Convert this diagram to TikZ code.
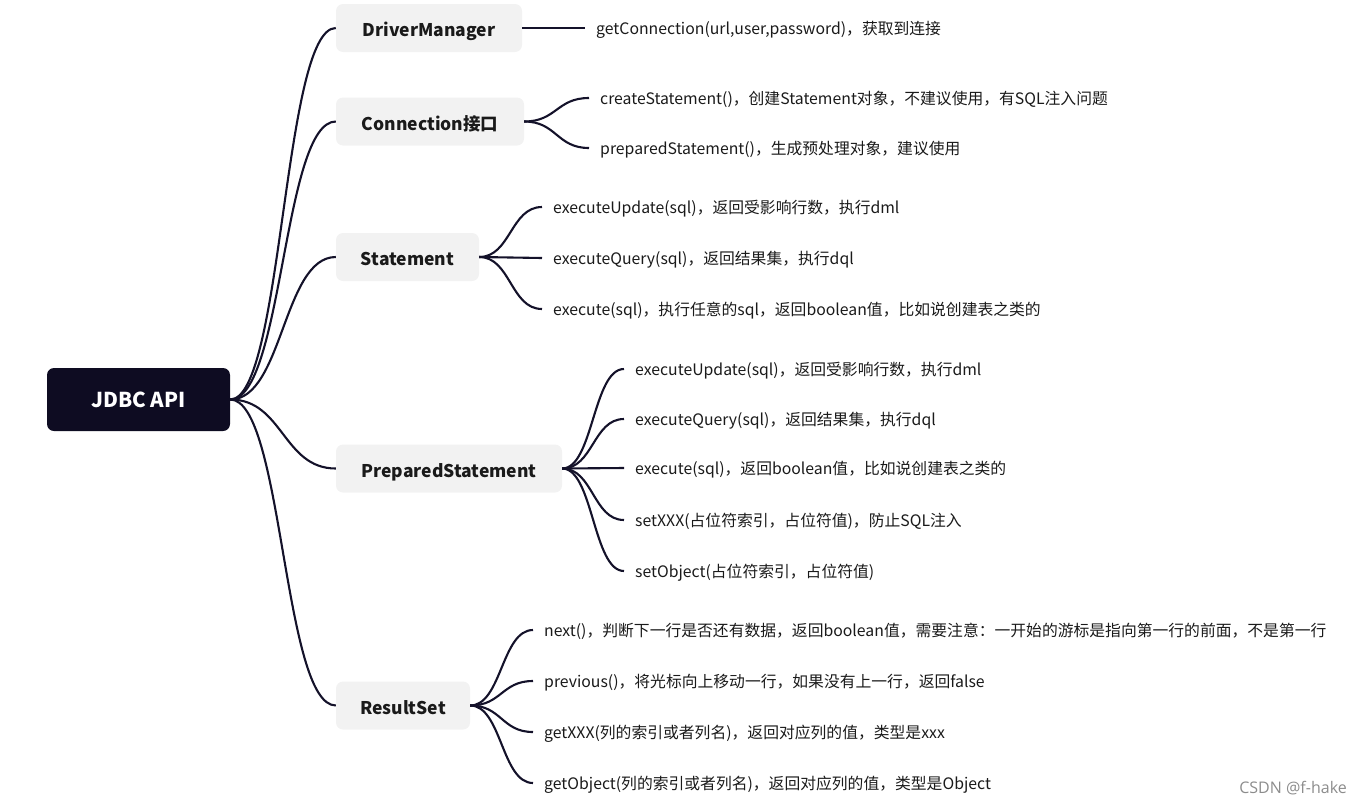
\documentclass[tikz,border=0pt]{standalone}
\usepackage{fontspec}
\setmainfont{Noto Sans CJK SC}
\newfontfamily\wmfont{Open Sans}
\usetikzlibrary{calc}
\definecolor{rootfill}{HTML}{0E0C22}
\definecolor{branchfill}{HTML}{F2F2F2}
\definecolor{linecol}{HTML}{14122A}
\definecolor{txt}{HTML}{1A1A1A}
\tikzset{
  rootbox/.style={fill=rootfill, rounded corners=7pt, text=white, font=\fontsize{20.5}{24}\selectfont\bfseries, minimum width=183pt, minimum height=63pt, inner sep=0pt},
  branchbox/.style={fill=branchfill, rounded corners=7pt, text=txt, font=\fontsize{17.5}{21}\selectfont\bfseries, minimum height=48pt, inner sep=0pt, text height=17pt, text depth=0pt},
  leaf/.style={anchor=west, inner xsep=11pt, inner ysep=0pt, text=txt, font=\fontsize{15.8}{18}\selectfont, text height=14pt, text depth=0.5pt},
  conn/.style={draw=linecol, line width=2.1pt},
}
\newcommand\mmconn[2]{\draw[conn] let \p1=(#1), \p2=(#2) in (\p1) .. controls ({(\x1+\x2)/2},\y1) and ({(\x1+\x2)/2},\y2) .. (\p2);}
\begin{document}
\begin{tikzpicture}[x=1pt,y=-1pt]
\useasboundingbox (0,0) rectangle (1362,806);
% root
\node[rootbox] (root) at (138.5,399.5) {JDBC API};
% branches
\node[branchbox, minimum width=186pt] (dm) at (429,28) {DriverManager};
\node[branchbox, minimum width=188pt] (cn) at (430,121.5) {Connection接口};
\node[branchbox, minimum width=143pt] (st) at (407.5,257) {Statement};
\node[branchbox, minimum width=226pt] (ps) at (449,468.5) {PreparedStatement};
\node[branchbox, minimum width=134pt] (rs) at (403,705.5) {ResultSet};
% leaves
\node[leaf] (dm1) at (585,28) {getConnection(url,user,password)，获取到连接};
\node[leaf] (cn1) at (589,98) {createStatement()，创建Statement对象，不建议使用，有SQL注入问题};
\node[leaf] (cn2) at (589,148) {preparedStatement()，生成预处理对象，建议使用};
\node[leaf] (st1) at (542,207) {executeUpdate(sql)，返回受影响行数，执行dml};
\node[leaf] (st2) at (542,258) {executeQuery(sql)，返回结果集，执行dql};
\node[leaf] (st3) at (542,309) {execute(sql)，执行任意的sql，返回boolean值，比如说创建表之类的};
\node[leaf] (ps1) at (624,369) {executeUpdate(sql)，返回受影响行数，执行dml};
\node[leaf] (ps2) at (624,419) {executeQuery(sql)，返回结果集，执行dql};
\node[leaf] (ps3) at (624,468) {execute(sql)，返回boolean值，比如说创建表之类的};
\node[leaf] (ps4) at (624,520) {setXXX(占位符索引，占位符值)，防止SQL注入};
\node[leaf] (ps5) at (624,571) {setObject(占位符索引，占位符值)};
\node[leaf] (rs1) at (533,630) {next()，判断下一行是否还有数据，返回boolean值，需要注意：一开始的游标是指向第一行的前面，不是第一行};
\node[leaf] (rs2) at (533,681) {previous()，将光标向上移动一行，如果没有上一行，返回false};
\node[leaf] (rs3) at (533,732) {getXXX(列的索引或者列名)，返回对应列的值，类型是xxx};
\node[leaf] (rs4) at (533,783) {getObject(列的索引或者列名)，返回对应列的值，类型是Object};
% root connectors
\foreach \b in {dm,cn,st,ps,rs}{\mmconn{root.east}{\b.west}}
% branch connectors
\draw[conn] (dm.east) -- (dm1.west);
\foreach \l in {cn1,cn2}{\mmconn{cn.east}{\l.west}}
\foreach \l in {st1,st2,st3}{\mmconn{st.east}{\l.west}}
\foreach \l in {ps1,ps2,ps3,ps4,ps5}{\mmconn{ps.east}{\l.west}}
\foreach \l in {rs1,rs2,rs3,rs4}{\mmconn{rs.east}{\l.west}}
% watermark
\node[anchor=east, inner sep=0pt, text=black!45, font=\wmfont\fontsize{16}{19}\selectfont] (wm) at (1347,788) {CSDN @f-hake};
\end{tikzpicture}
\end{document}
